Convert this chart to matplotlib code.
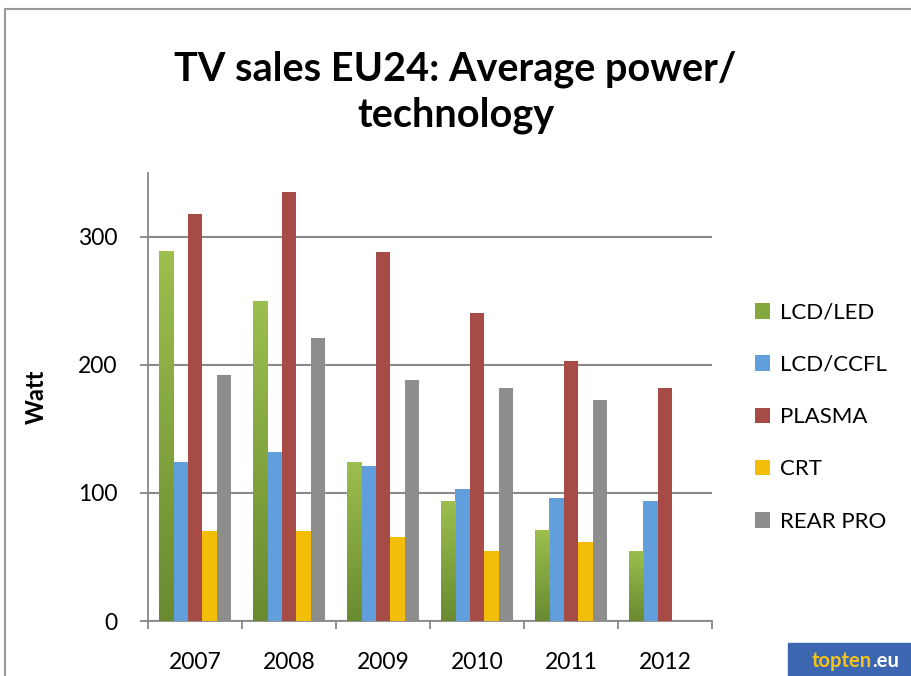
import matplotlib.pyplot as plt
from matplotlib.patches import Rectangle
import numpy as np

# data
years = ['2007', '2008', '2009', '2010', '2011', '2012']
lcd_led = [289, 250, 124, 94, 71, 55]
lcd_ccfl = [124, 132, 121, 103, 96, 94]
plasma = [318, 335, 288, 241, 203, 182]
crt = [70, 70, 66, 55, 62, 0]
rear_pro = [192, 221, 188, 182, 173, 0]

series = [('LCD/LED', lcd_led), ('LCD/CCFL', lcd_ccfl), ('PLASMA', plasma),
          ('CRT', crt), ('REAR PRO', rear_pro)]
colors = ['#84a83e', '#619fdc', '#a64b45', '#f2be0a', '#8d8d8d']

plt.rcParams['font.family'] = ['Lato', 'DejaVu Sans']

fig = plt.figure(figsize=(9.11, 6.76), dpi=100)
ax = fig.add_axes([148/911, 1-621/676, (712-148)/911, (621-173)/676])

x = np.arange(len(years))
w = 0.155
for i, (name, vals) in enumerate(series):
    pos = x + (i - 2) * w
    bars = ax.bar(pos, vals, width=w, color=colors[i], label=name, zorder=3)
    if i == 0:
        # gradient on the green bars, lighter at the top
        grad = np.linspace(0, 1, 256).reshape(-1, 1)
        for b in bars:
            bx, by = b.get_x(), b.get_y()
            bw, bh = b.get_width(), b.get_height()
            im = ax.imshow(grad, extent=[bx, bx + bw, by, by + bh], origin='lower',
                           cmap=plt.matplotlib.colors.LinearSegmentedColormap.from_list(
                               'g', ['#6a8a30', '#9cbf4e']),
                           aspect='auto', zorder=3.5)
            im.set_clip_path(b)

ax.set_xlim(-0.5, len(years) - 0.5)
ax.set_ylim(0, 350)
ax.set_yticks([0, 100, 200, 300])
ax.set_xticks(x)
ax.set_xticklabels(years)
ax.set_xticks(np.arange(-0.5, len(years)), minor=True)
ax.tick_params(axis='x', which='major', length=0, labelsize=16.5, pad=22)
ax.tick_params(axis='x', which='minor', length=6, color='#888888', width=1.3)
ax.tick_params(axis='y', labelsize=16.5, length=6, color='#888888', width=1.3, pad=16)
ax.yaxis.grid(True, color='#8a8a8a', linewidth=1.5, zorder=0)
for s in ['top', 'right']:
    ax.spines[s].set_visible(False)
ax.spines['left'].set_color('#888888')
ax.spines['bottom'].set_color('#888888')
ax.spines['left'].set_linewidth(1.3)
ax.spines['bottom'].set_linewidth(1.3)

ax.set_ylabel('Watt', fontsize=17, fontweight='bold', labelpad=22)

leg = ax.legend(loc='upper left', bbox_to_anchor=(1.04, 0.755), frameon=False,
                fontsize=16, handlelength=0.7, handleheight=0.7,
                handletextpad=0.45, labelspacing=1.45)

fig.text(0.5, 1-92/676, 'TV sales EU24: Average power/\ntechnology',
         ha='center', va='center', fontsize=28.5, fontweight='bold', linespacing=1.3)

# frame
fig.add_artist(Rectangle((5/911, -0.1), 1.2, 1 - 9/676 + 0.1, transform=fig.transFigure,
                         fill=False, edgecolor='#9a9a9a', linewidth=1.5))

# logo
fig.add_artist(Rectangle((788/911, 0), 0.2, 33/676, transform=fig.transFigure,
                         color='#3d66b0', zorder=5))
t = fig.text(812/911, 1-661/676, 'topten', color='#f2c21a', fontsize=14.5,
             fontweight='bold', va='center', zorder=6)
fig.add_artist(plt.matplotlib.text.Annotation('.eu', xy=(1, 0.5), xycoords=t,
                                              color='white', fontsize=14.5, fontweight='bold',
                                              va='center', ha='left', zorder=6))

fig.savefig('out.png', dpi=100)
